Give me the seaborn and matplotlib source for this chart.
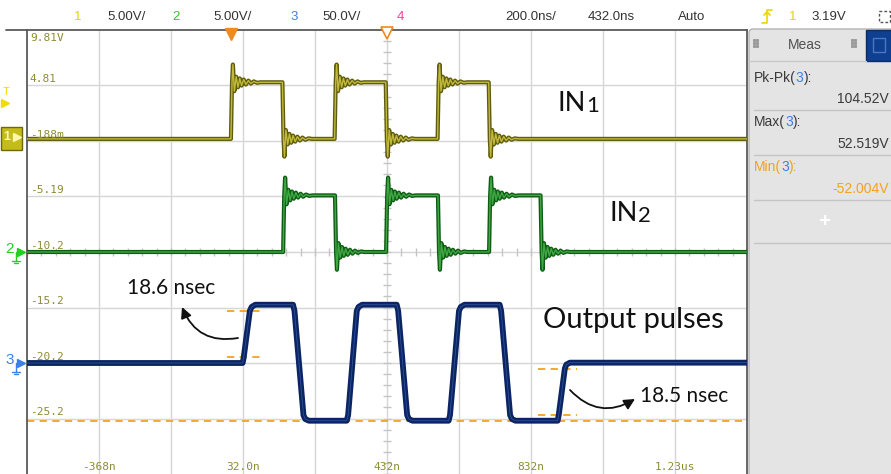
import numpy as np
import pandas as pd
import matplotlib
matplotlib.use("Agg")
import matplotlib.pyplot as plt
from matplotlib.patches import FancyArrowPatch, Rectangle, FancyBboxPatch
import seaborn as sns

W, H = 891, 474

# ---- time base: 200 ns/div, 10 div, 432 ns at screen centre ----
T_LEFT, T_RIGHT = -568.0, 1432.0
T_DIV = 200.0
T_TICKS = [-368, 32, 432, 832, 1232]
T_TICK_LABELS = ["-368n", "32.0n", "432n", "832n", "1.23us"]

# ---- vertical graticule expressed in channel-1 volts (5 V/div, 8 div) ----
Y_TOP, Y_BOTTOM = 9.81, -30.19
Y_DIV = 5.0
Y_GRID_LABELS = ["9.81V", "4.81", "-188m", "-5.19", "-10.2", "-15.2", "-20.2", "-25.2"]

# channel ground positions on the shared graticule
CH1_GND = 0.0
CH2_GND = -10.19
CH3_GND = -20.19
CH3_SCALE = 10.0          # 50 V/div shown on a 5 V/div grid

# ---- logic inputs (V) ----
IN_LOW, IN_HIGH = 0.0, 5.1
IN1_RISE = [0, 288, 574]
IN1_FALL = [143, 430, 716]
IN2_RISE = [145, 431, 717]
IN2_FALL = [289, 575, 860]

# ringing after every logic edge: delay (ns) and deviation (V, along edge direction)
RING_DT = [4, 8, 13, 18, 23, 28, 34, 40, 47, 54, 62, 71, 80]
RING_DV = [1.6, -0.8, 0.5, -0.45, 0.35, -0.3, 0.25, -0.2, 0.15, -0.12, 0.08, -0.05, 0.0]

# ---- output pulses, channel 3 (ns, V) ----
OUT_T = [-568, 31, 34, 51, 56, 66,
         171, 175, 200, 205, 215,
         320, 324, 348, 353, 363,
         459, 463, 488, 493, 503,
         603, 607, 632, 637, 647,
         745, 749, 774, 779, 789,
         906, 909, 926, 930, 940, 1432]
OUT_V = [0, 0, 5, 47, 50.5, 52.5,
         52.5, 47, -47, -50.5, -52,
         -52, -47, 47, 50.5, 52.5,
         52.5, 47, -47, -50.5, -52,
         -52, -47, 47, 50.5, 52.5,
         52.5, 47, -47, -50.5, -52,
         -52, -47, -5, -1.5, 0.3, 0.3]

# measurement results for channel 3
MEAS_PKPK, MEAS_MAX, MEAS_MIN = 104.52, 52.519, -52.004
RISE_FIRST = (0.0, 52.5)      # first edge: 0 V -> high
RISE_LAST = (-52.0, 0.0)      # last edge: low -> 0 V
RISE_FIRST_SPAN = (-12, 93)   # ns range of the 10/90 % markers
RISE_LAST_SPAN = (851, 960)
RISE_FIRST_LABEL = "18.6 nsec"
RISE_LAST_LABEL = "18.5 nsec"


def logic_trace(rises, falls, gnd):
    edges = sorted([(t, 1) for t in rises] + [(t, -1) for t in falls])
    ts, vs = [T_LEFT], [IN_LOW]
    for te, s in edges:
        a, b = (IN_LOW, IN_HIGH) if s > 0 else (IN_HIGH, IN_LOW)
        ts += [te - 1.5, te + 1.5]
        vs += [a, b]
        for dt, dv in zip(RING_DT, RING_DV):
            ts.append(te + dt)
            vs.append(b + s * dv)
    ts.append(T_RIGHT)
    vs.append(IN_LOW)
    return np.array(ts, float), gnd + np.array(vs, float)


t1, y1 = logic_trace(IN1_RISE, IN1_FALL, CH1_GND)
t2, y2 = logic_trace(IN2_RISE, IN2_FALL, CH2_GND)
t3 = np.array(OUT_T, float)
y3 = CH3_GND + np.array(OUT_V, float) / CH3_SCALE

df = pd.concat([
    pd.DataFrame({"t": t1, "y": y1, "ch": "1"}),
    pd.DataFrame({"t": t2, "y": y2, "ch": "2"}),
    pd.DataFrame({"t": t3, "y": y3, "ch": "3"}),
], ignore_index=True)

sns.set_style("white")
plt.rcParams["font.family"] = ["Liberation Sans", "DejaVu Sans"]

fig = plt.figure(figsize=(W / 100, H / 100), dpi=100)
fig.patch.set_facecolor("white")

ax = fig.add_axes([27 / W, 0, 720 / W, 444 / H])
ax.set_xlim(T_LEFT, T_RIGHT)
ax.set_ylim(Y_BOTTOM, Y_TOP)
ax.set_xticks(np.arange(T_LEFT + T_DIV, T_RIGHT - 1, T_DIV))
ax.set_yticks(np.arange(Y_TOP - Y_DIV, Y_BOTTOM + 1, -Y_DIV))
ax.grid(True, color="#d6d6d6", lw=1.0)
ax.set_axisbelow(True)
ax.tick_params(labelbottom=False, labelleft=False, length=0)
for side in ("left", "top", "right"):
    ax.spines[side].set_color("#5a5a5a")
    ax.spines[side].set_linewidth(1.3)
ax.spines["bottom"].set_visible(False)

# centre-axis minor ticks
t_mid = (T_LEFT + T_RIGHT) / 2
y_mid = (Y_TOP + Y_BOTTOM) / 2
ax.plot(np.full(41, t_mid), np.linspace(Y_BOTTOM, Y_TOP, 41), ls="none",
        marker="_", ms=6, mew=1, color="#c4c4c4", zorder=1)
ax.plot(np.linspace(T_LEFT, T_RIGHT, 51), np.full(51, y_mid), ls="none",
        marker="|", ms=6, mew=1, color="#c4c4c4", zorder=1)

# measurement cursor (Min of channel 3) and rise-time level markers
ORANGE = "#f5a21b"
ax.axhline(CH3_GND + MEAS_MIN / CH3_SCALE, color=ORANGE, ls=(0, (4, 3)), lw=1.3, zorder=2)
for (lo, hi), (ta, tb) in ((RISE_FIRST, RISE_FIRST_SPAN), (RISE_LAST, RISE_LAST_SPAN)):
    for frac in (0.1, 0.9):
        lvl = CH3_GND + (lo + frac * (hi - lo)) / CH3_SCALE
        ax.plot([ta, tb], [lvl, lvl], color=ORANGE, ls=(0, (4, 3)), lw=1.3, zorder=2)

# traces: a dark body with a thin lighter core, like the scope's persistence display
TRACE_STYLE = {
    "1": ("#5e5c10", 3.0, "#c2b93a", 1.0),
    "2": ("#0f5c14", 3.0, "#3fa843", 1.0),
    "3": ("#0b2463", 4.2, "#2f5299", 0.6),
}
for ch, (dark, dlw, light, llw) in TRACE_STYLE.items():
    sub = df[df["ch"] == ch]
    sns.lineplot(data=sub, x="t", y="y", color=dark, lw=dlw, estimator=None,
                 sort=False, legend=False, ax=ax, zorder=3)
    sns.lineplot(data=sub, x="t", y="y", color=light, lw=llw, estimator=None,
                 sort=False, legend=False, ax=ax, zorder=4)
ax.set_xlabel("")
ax.set_ylabel("")

# graticule labels
LBL = dict(family="DejaVu Sans Mono", fontsize=8, color="#8c8c34")
for k, txt in enumerate(Y_GRID_LABELS):
    yv = Y_TOP - k * Y_DIV
    if k == 0:
        ax.text(T_LEFT + 8, yv - 0.25, txt, va="top", ha="left", zorder=6, **LBL)
    else:
        ax.text(T_LEFT + 8, yv + 0.12, txt, va="bottom", ha="left", zorder=6, **LBL)
for tv, txt in zip(T_TICKS, T_TICK_LABELS):
    ax.text(tv, Y_BOTTOM + 0.6, txt, va="center", ha="center", zorder=6, **LBL)

# ---- overlay in pixel coordinates for screen furniture ----
ov = fig.add_axes([0, 0, 1, 1], zorder=5)
ov.set_xlim(0, W)
ov.set_ylim(H, 0)
ov.axis("off")
ov.patch.set_alpha(0)

ov.plot([6, 27], [30, 30], color="#5a5a5a", lw=1.3)

# header bar
HDR_Y = 17
hdr = [(74, "1", "#e3d500"), (107, "5.00V/", "#333333"),
       (172, "2", "#1fcf1f"), (213, "5.00V/", "#333333"),
       (290, "3", "#3d7fe8"), (322, "50.0V/", "#333333"),
       (397, "4", "#ff3f9f"), (505, "200.0ns/", "#333333"),
       (588, "432.0ns", "#333333"), (678, "Auto", "#333333"),
       (789, "1", "#e3d500"), (811, "3.19V", "#333333")]
for x, s, c in hdr:
    ov.text(x, HDR_Y, s, color=c, fontsize=9.5, va="center", ha="left")
ov.plot([762, 767, 767, 772], [23, 23, 10, 10], color="#f0d400", lw=1.2)
ov.plot([764, 767, 770], [15, 12, 15], color="#f0d400", lw=1.2)
ov.add_patch(Rectangle((879, 11), 11, 11, fill=False, ec="#555555", ls=(0, (2, 1.5)), lw=1))

# trigger position and delay reference markers
trig_x = 27 + (0 - T_LEFT) / (T_RIGHT - T_LEFT) * 720
ov.plot([trig_x], [33.5], marker="v", ms=8, color="#f08a1c", mec="#f08a1c")
ov.plot([387], [33], marker="v", ms=8, mfc="white", mec="#f08a1c", mew=1.2)

# channel ground markers and trigger level marker
ov.add_patch(Rectangle((1, 127), 21, 23, fc="#c4bc1a", ec="#6e6a08", lw=1))
ov.text(7, 137, "1", color="#fdf6b0", fontsize=9, va="center", ha="center", fontweight="bold")
ov.plot([17], [137], marker=">", ms=6, color="#fdf6b0")
ov.text(6, 92, "T", color="#f0dc00", fontsize=8, va="center", ha="center")
ov.plot([5], [103], marker=">", ms=6, color="#f0dc00")
for yy, lab, col in ((252, "2", "#22d022"), (363, "3", "#3d7fe8")):
    ov.text(10, yy - 3, lab, color=col, fontsize=11, va="center", ha="center")
    ov.plot([21], [yy], marker=">", ms=6, color=col)
    ov.plot([16, 16], [yy, yy + 9], color=col, lw=1)
    ov.plot([12, 20], [yy + 9, yy + 9], color=col, lw=1)
    ov.plot([14, 18], [yy + 11, yy + 11], color=col, lw=1)

# measurement side panel
ov.add_patch(FancyBboxPatch((749, 29), 150, 460, boxstyle="round,pad=0,rounding_size=4",
                            fc="#e4e4e4", ec="#b4b4b4", lw=1))
ov.add_patch(Rectangle((866, 30), 26, 31, fc="#0f3f91", ec="#0a2d6a", lw=1))
ov.add_patch(Rectangle((873, 38), 12, 14, fc="none", ec="#4a77c0", lw=1))
for gx in (754, 852):
    for dx in (0, 3):
        for dy in (0, 3, 6):
            ov.plot([gx + dx], [40 + dy], marker="s", ms=1.2, color="#9a9a9a")
ov.text(805, 45, "Meas", fontsize=10, color="#505050", ha="center", va="center")
ov.plot([749, 866], [61, 61], color="#c9c9c9", lw=1)


def multicolor(x, y, parts, size):
    prev = ov.text(x, y, parts[0][0], color=parts[0][1], fontsize=size, va="center", ha="left")
    for s, c in parts[1:]:
        prev = ov.annotate(s, xy=(1, 0), xycoords=prev, va="bottom", ha="left",
                           color=c, fontsize=size)


BLUE3 = "#3d7fe8"
GREY = "#3a3a3a"
VAL_X = 889
multicolor(754, 78, [("Pk-Pk(", GREY), ("3", BLUE3), ("):", GREY)], 10)
ov.text(VAL_X, 99, f"{MEAS_PKPK:.2f}V", fontsize=10, color=GREY, ha="right", va="center")
ov.plot([754, 891], [110, 110], color="#c4c4c4", lw=1)
multicolor(754, 122, [("Max(", GREY), ("3", BLUE3), ("):", GREY)], 10)
ov.text(VAL_X, 144, f"{MEAS_MAX:.3f}V", fontsize=10, color=GREY, ha="right", va="center")
ov.plot([754, 891], [155, 155], color="#c4c4c4", lw=1)
multicolor(754, 167, [("Min(", ORANGE), ("3", BLUE3), ("):", ORANGE)], 10)
ov.text(VAL_X, 189, f"{MEAS_MIN:.3f}V", fontsize=10, color=ORANGE, ha="right", va="center")
ov.plot([754, 891], [200, 200], color="#c4c4c4", lw=1)
ov.text(824, 221, "+", fontsize=15, color="white", ha="center", va="center", fontweight="bold")
ov.plot([754, 891], [243, 243], color="#c4c4c4", lw=1)

# annotations
ANN = dict(family=["Lato", "DejaVu Sans"], color="#111111")
t_in1 = ov.text(558, 111, "IN", fontsize=19.5, va="baseline", ha="left", **ANN)
ov.annotate("1", xy=(1, 0), xycoords=t_in1, va="bottom", ha="left", fontsize=16, **ANN)
t_in2 = ov.text(610, 221, "IN", fontsize=19.5, va="baseline", ha="left", **ANN)
ov.annotate("2", xy=(1, 0), xycoords=t_in2, va="bottom", ha="left", fontsize=16, **ANN)
ov.text(543, 320, "Output pulses", fontsize=21, va="center", ha="left", **ANN)
ov.text(127, 288, RISE_FIRST_LABEL, fontsize=15, va="center", ha="left", **ANN)
ov.text(640, 396, RISE_LAST_LABEL, fontsize=15, va="center", ha="left", **ANN)

for pa, pb, rad in (((238, 338), (182, 307), -0.4), ((570, 390), (635, 399), 0.4)):
    ov.add_patch(FancyArrowPatch(pa, pb, connectionstyle=f"arc3,rad={rad}",
                                 arrowstyle="-|>", mutation_scale=16, lw=1.3,
                                 color="#111111", shrinkA=0, shrinkB=0))

fig.savefig("out.png", dpi=100, facecolor="white")
